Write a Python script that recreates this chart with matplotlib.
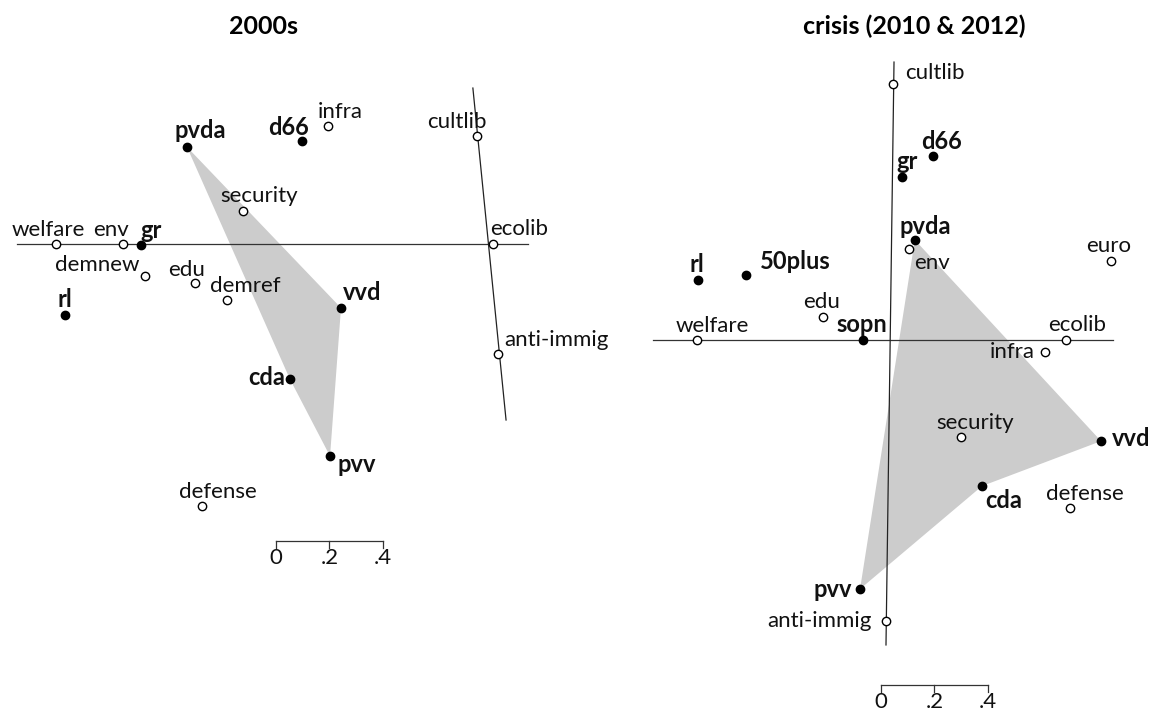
import matplotlib
matplotlib.use("Agg")
import matplotlib.pyplot as plt
from matplotlib.patches import Polygon

plt.rcParams['font.family'] = ['Lato', 'DejaVu Sans']

# ---------------- data: 2000s ----------------
parties_a = ["pvda", "d66", "gr", "vvd", "rl", "cda", "pvv"]
px_a = [-0.333, 0.097, -0.505, 0.243, -0.789, 0.052, 0.202]
py_a = [0.363, 0.385, -0.004, -0.239, -0.265, -0.505, -0.793]

issues_a = ["infra", "cultlib", "security", "welfare", "env", "ecolib",
            "demnew", "edu", "demref", "anti-immig", "defense"]
ix_a = [0.194, 0.751, -0.123, -0.822, -0.572, 0.811, -0.490, -0.303, -0.183, 0.830, -0.277]
iy_a = [0.441, 0.404, 0.123, 0.0, 0.0, 0.0, -0.120, -0.146, -0.209, -0.411, -0.979]

hull_a = ["pvda", "vvd", "pvv", "cda"]
axis1_a = ([-0.968, 0.942], [0.0, 0.0])
axis2_a = ([0.736, 0.860], [0.583, -0.658])

# ---------------- data: crisis ----------------
parties_b = ["d66", "gr", "pvda", "rl", "50plus", "sopn", "vvd", "cda", "pvv"]
px_b = [0.161, 0.045, 0.093, -0.718, -0.538, -0.101, 0.789, 0.344, -0.112]
py_b = [0.688, 0.609, 0.374, 0.224, 0.243, 0.0, -0.378, -0.546, -0.931]

issues_b = ["cultlib", "env", "euro", "edu", "welfare", "ecolib", "infra",
            "security", "defense", "anti-immig"]
ix_b = [0.011, 0.071, 0.826, -0.250, -0.721, 0.658, 0.579, 0.265, 0.673, -0.015]
iy_b = [0.957, 0.340, 0.295, 0.086, 0.0, 0.0, -0.045, -0.363, -0.628, -1.050]

hull_b = ["pvda", "vvd", "cda", "pvv"]
axis1_b = ([-0.886, 0.834], [0.0, 0.0])
axis2_b = ([0.015, -0.015], [1.039, -1.140])

scale_ticks = [0.0, 0.2, 0.4]
scale_labels = ["0", ".2", ".4"]

# ---------------- layout (label offsets in pixels) ----------------
off_a = {"pvda": (13, 16), "d66": (-13, 14), "gr": (10, 15), "vvd": (21, 15),
         "rl": (0, 15), "cda": (-23, 2), "pvv": (27, -8),
         "infra": (12, 14), "cultlib": (-20, 14), "security": (16, 15),
         "welfare": (-8, 14), "env": (-12, 14), "ecolib": (26, 15),
         "demnew": (-48, 11), "edu": (-8, 13), "demref": (18, 14),
         "anti-immig": (58, 14), "defense": (16, 14)}
off_b = {"d66": (8, 14), "gr": (5, 16), "pvda": (10, 13), "rl": (-1, 16),
         "50plus": (49, 13), "sopn": (-1, 15), "vvd": (30, 3), "cda": (22, -14),
         "pvv": (-27, 0),
         "cultlib": (42, 11), "env": (23, -14), "euro": (-2, 15), "edu": (-2, 15),
         "welfare": (15, 14), "ecolib": (11, 15), "infra": (-33, 0),
         "security": (14, 14), "defense": (15, 14), "anti-immig": (-67, 0)}

FS_ISSUE = 16
FS_PARTY = 17
fig = plt.figure(figsize=(11.6, 7.2), dpi=100)


def panel(rect, xlim, ylim, title, title_x, parties, px, py, issues, ix, iy,
          hull, ax1, ax2, offs, scale_x0, scale_y):
    ax = fig.add_axes(rect)
    ax.set_xlim(*xlim)
    ax.set_ylim(*ylim)
    ax.axis("off")
    pos = dict(zip(parties, zip(px, py)))
    poly = Polygon([pos[p] for p in hull], closed=True, facecolor="#cccccc",
                   edgecolor="none", zorder=1)
    ax.add_patch(poly)
    ax.plot(*ax1, color="#333333", lw=0.9, zorder=2)
    ax.plot(*ax2, color="#222222", lw=0.9, zorder=2)
    ax.plot(ix, iy, "o", ms=6, mfc="white", mec="black", mew=1.0, ls="none", zorder=3)
    ax.plot(px, py, "o", ms=6, mfc="black", mec="black", ls="none", zorder=4)
    for name, x, y in zip(issues, ix, iy):
        ax.annotate(name, (x, y), xytext=offs[name], textcoords="offset pixels",
                    ha="center", va="center", fontsize=FS_ISSUE, color="#111111", zorder=5)
    for name, x, y in zip(parties, px, py):
        ax.annotate(name, (x, y), xytext=offs[name], textcoords="offset pixels",
                    ha="center", va="center", fontsize=FS_PARTY, fontweight="bold",
                    color="#111111", zorder=5)
    # scale bar
    xs = [scale_x0 + t for t in scale_ticks]
    ax.plot([xs[0], xs[-1]], [scale_y, scale_y], color="#333333", lw=0.9)
    for x, lab in zip(xs, scale_labels):
        ax.plot([x, x], [scale_y, scale_y - 0.025], color="#333333", lw=0.9)
        ax.annotate(lab, (x, scale_y), xytext=(0, -17), textcoords="offset pixels",
                    ha="center", va="center", fontsize=FS_ISSUE, color="#111111")
    ax.text(title_x, 0.963, title, transform=fig.transFigure, ha="center", va="center",
            fontsize=18, fontweight="bold")
    return ax


U = 267.5
panel([0, 0, 0.5, 680 / 720], ((0 - 276) / U, (580 - 276) / U),
      ((244 - 720) / U, (244 - 40) / U), "2000s", 263 / 1160,
      parties_a, px_a, py_a, issues_a, ix_a, iy_a, hull_a, axis1_a, axis2_a, off_a,
      0.0, -1.110)
panel([0.5, 0, 0.5, 680 / 720], ((580 - 890) / U, (1160 - 890) / U),
      ((340 - 720) / U, (340 - 40) / U), "crisis (2010 & 2012)", 914 / 1160,
      parties_b, px_b, py_b, issues_b, ix_b, iy_b, hull_b, axis1_b, axis2_b, off_b,
      -0.034, -1.290)

fig.savefig("out.png", dpi=100)
